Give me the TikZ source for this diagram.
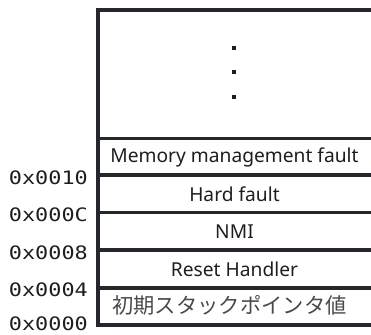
\documentclass[tikz,border=0pt]{standalone}
\usepackage{fontspec}
\usepackage{graphicx}
\setmainfont{Noto Sans}
\newfontfamily\cjkfont{Noto Sans CJK JP}
\newfontfamily\addrfont{DejaVu Sans Mono}
\definecolor{edge}{HTML}{24282D}
\definecolor{ink}{HTML}{1E1E1E}
\definecolor{softink}{HTML}{4A4A4A}
\begin{document}
\begin{tikzpicture}[x=1pt,y=-1pt,
  wall/.style={draw=edge, line width=4pt},
  divider/.style={draw=edge, line width=3.5pt},
  cell/.style={font=\fontsize{19.2}{22}\selectfont, text=ink, inner sep=0pt},
  jpcell/.style={font=\cjkfont\fontsize{21.3}{25}\selectfont, text=softink, inner sep=0pt},
  addr/.style={anchor=east, inner sep=0pt, text=ink, font=\addrfont\fontsize{18.5}{22}\selectfont},
  dotmark/.style={fill=ink, draw=none, minimum size=4pt, inner sep=0pt}]
\useasboundingbox (0,0) rectangle (371,334);

% outer frame: open on the right side
\draw[wall] (371,10) -- (98,10) -- (98,325) -- (371,325);

% slot dividers
\foreach \y in {138.5,175,212.5,250,288}
  \draw[divider] (98,\y) -- (371,\y);

% ellipsis in the upper area
\node[dotmark] (d1) at (234,48.5) {};
\node[dotmark] (d2) at (234,72) {};
\node[dotmark] (d3) at (234,96.5) {};

% vector table entries
\node[cell] (mm)  at (234.5,157) {Memory management fault};
\node[cell] (hf)  at (234.5,194) {Hard fault};
\node[cell] (nmi) at (234.5,231.5) {NMI};
\node[cell] (rst) at (234.5,269) {Reset Handler};
\node[jpcell] (sp) at (229.5,305.5) {初期スタックポインタ値};

% addresses
\node[addr] (a10) at (88,177.5) {\scalebox{1.18}[1]{0x0010}};
\node[addr] (a0C) at (88,215) {\scalebox{1.18}[1]{0x000C}};
\node[addr] (a08) at (88,253) {\scalebox{1.18}[1]{0x0008}};
\node[addr] (a04) at (88,290) {\scalebox{1.18}[1]{0x0004}};
\node[addr] (a00) at (88,324) {\scalebox{1.18}[1]{0x0000}};
\end{tikzpicture}
\end{document}
